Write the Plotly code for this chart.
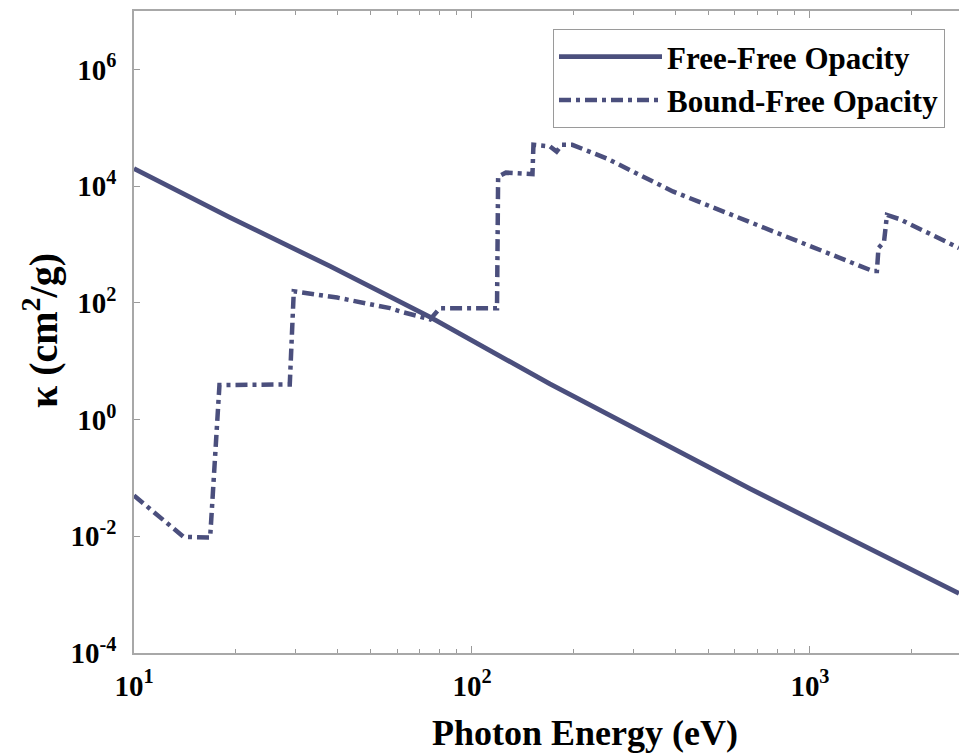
import plotly.graph_objects as go

# Free-free opacity (photon energy eV, kappa cm^2/g)
ff_energy = [10, 19.2, 38.0, 75.2, 170, 664, 2760]
ff_kappa = [2.0e4, 2.92e3, 4.24e2, 5.7e1, 4.07e0, 6.53e-2, 1.05e-3]

# Bound-free opacity
bf_energy = [10, 14.0, 16.6, 16.8, 17.9, 28.9, 29.7, 39.9, 57.2, 62.0, 75.2, 80.4,
             118.6, 119.5, 126, 145, 151, 152, 170, 178, 184.5, 198, 251, 393,
             621, 979, 1535, 1578, 1595, 1656, 1690, 1846, 2265, 2760]
bf_kappa = [5.0e-2, 9.8e-3, 9.5e-3, 9.5e-3, 3.9e0, 4.0e0, 1.58e2, 1.23e2, 8.1e1,
            7.0e1, 5.2e1, 8.1e1, 8.1e1, 1.45e4, 1.7e4, 1.6e4, 1.6e4, 5.1e4,
            4.8e4, 3.9e4, 5.1e4, 5.1e4, 2.95e4, 8.1e3, 2.8e3, 1.0e3, 3.5e2,
            3.5e2, 8.7e2, 1.1e3, 3.2e3, 2.7e3, 1.5e3, 8.7e2]

x_tick_vals = [10, 100, 1000]
x_tick_text = ["10<sup>1</sup>", "10<sup>2</sup>", "10<sup>3</sup>"]
x_minor_vals = [m * d for d in (10, 100, 1000) for m in range(2, 10)]
y_tick_vals = [1e-4, 1e-2, 1e0, 1e2, 1e4, 1e6]
y_tick_text = ["10<sup>-4</sup>", "10<sup>-2</sup>", "10<sup>0</sup>",
               "10<sup>2</sup>", "10<sup>4</sup>", "10<sup>6</sup>"]

LINE = "#4b4f7d"
AXIS = "#a8a8a8"
TICK = "#9a9a9a"
FONT = "Liberation Serif"
XRANGE = [1, 3.441]

fig = go.Figure()
fig.add_trace(go.Scatter(x=ff_energy, y=ff_kappa, mode="lines",
                         name="Free-Free Opacity",
                         line=dict(color=LINE, width=4.8)))
fig.add_trace(go.Scatter(x=bf_energy, y=bf_kappa, mode="lines",
                         name="Bound-Free Opacity",
                         line=dict(color=LINE, width=4.5, dash="12px,5px,4px,5px")))
# carrier for the minor-tick axis (no marks)
fig.add_trace(go.Scatter(x=[], y=[], xaxis="x2", showlegend=False, hoverinfo="skip"))

fig.update_layout(
    width=959, height=754,
    margin=dict(l=134, r=0, t=11, b=101, autoexpand=False),
    plot_bgcolor="white", paper_bgcolor="white",
    font=dict(family=FONT, size=29, color="black", weight="bold"),
    showlegend=True,
    legend=dict(x=(553 - 134) / 825, y=(653 - 29) / 642, xanchor="left", yanchor="top",
                bgcolor="white", bordercolor="#9a9a9a", borderwidth=1,
                font=dict(family=FONT, size=31, color="black", weight="bold"),
                itemwidth=103, tracegroupgap=0),
    xaxis=dict(type="log", range=XRANGE, automargin=False,
               tickvals=x_tick_vals, ticktext=x_tick_text,
               ticks="inside", ticklen=7, tickwidth=1.2, tickcolor=TICK,
               showline=True, linecolor=AXIS, linewidth=1.5, mirror="ticks",
               showgrid=False, zeroline=False,
               tickfont=dict(family=FONT, size=29, color="black", weight="bold"),
               ticklabelstandoff=6),
    xaxis2=dict(type="log", range=XRANGE, overlaying="x", anchor="y", side="bottom",
                automargin=False, tickvals=x_minor_vals, showticklabels=False,
                ticks="inside", ticklen=4, tickwidth=1.2, tickcolor=TICK,
                showline=False, mirror="ticks", showgrid=False, zeroline=False),
    yaxis=dict(type="log", range=[-4, 7], automargin=False,
               tickvals=y_tick_vals, ticktext=y_tick_text,
               ticks="inside", ticklen=6, tickwidth=1.2, tickcolor=TICK,
               showline=True, linecolor=AXIS, linewidth=1.5, mirror=False,
               showgrid=False, zeroline=False,
               tickfont=dict(family=FONT, size=29, color="black", weight="bold"),
               ticklabelstandoff=10),
    annotations=[
        dict(text="Photon Energy (eV)", xref="paper", yref="paper",
             x=(585 - 134) / 825, y=(653 - 733) / 642, xanchor="center", yanchor="middle",
             showarrow=False, font=dict(family=FONT, size=36, color="black", weight="bold")),
        dict(text="κ (cm<sup>2</sup>/g)", xref="paper", yref="paper",
             x=(40 - 134) / 825, y=(653 - 331) / 642, xanchor="center", yanchor="middle",
             textangle=-90, showarrow=False,
             font=dict(family=FONT, size=40, color="black", weight="bold")),
    ],
)

# remove the browser's default 8px page margin so the figure fills the window exactly
fig.write_html(
    "out.html",
    config={"displayModeBar": False},
    post_script="document.body.style.margin='0';"
                "document.documentElement.style.overflow='hidden';"
                "document.body.style.overflow='hidden';",
)
